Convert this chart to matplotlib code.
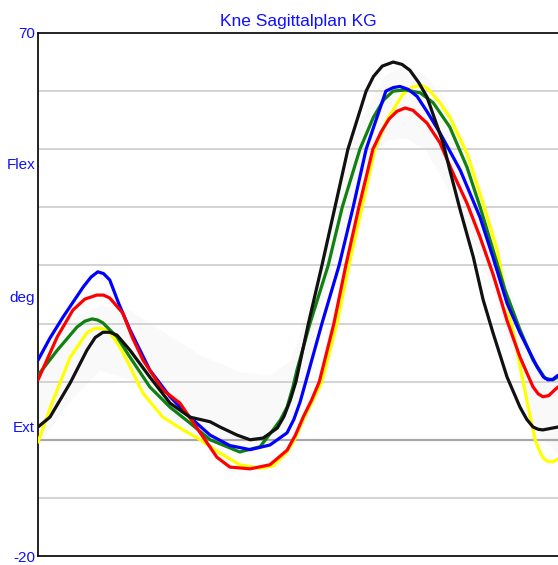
import numpy as np
import matplotlib.pyplot as plt

plt.rcParams['font.family'] = ['Liberation Sans', 'DejaVu Sans']

# percent of gait cycle / knee angle (deg)
blue_x = [0, 2.3, 4.8, 8.7, 10.2, 11.5, 12.6, 13.8, 15.5, 17.7, 21.5, 25.4, 29.2, 33.1, 36.9, 40.8,
          44.6, 47.9, 49.2, 50.4, 51.5, 54.6, 57.9, 60.6, 63.1, 66.9, 68.3, 69.6, 71.2, 72.9, 74.8,
          77.3, 81.2, 85.0, 87.5, 90.2, 92.7, 96.0, 97.2, 98.1, 99.0, 100]
blue_y = [13.7, 17.5, 21.1, 26.3, 28.0, 28.9, 28.6, 27.5, 23.5, 18.9, 12.0, 7.4, 3.9, 0.8, -1.0, -1.7,
          -0.9, 1.2, 3.5, 6.5, 10, 20, 30, 40, 50, 60, 60.6, 60.8, 60.3, 59.1, 56.5,
          52.8, 46.4, 38.3, 31.4, 23.5, 18.4, 12.5, 10.8, 10.3, 10.4, 11.1]

red_x = [0, 3.7, 6.7, 9.0, 11.3, 12.6, 13.8, 16.3, 18.2, 20.2, 24.0, 27.3, 31.2, 34.4, 36.9, 40.8,
         44.6, 47.9, 49.5, 51.0, 52.6, 54.1, 56.9, 59.2, 61.7, 64.4, 66.0, 67.5, 69.0, 70.6, 72.1,
         74.8, 77.3, 79.8, 82.5, 85.0, 87.5, 89.2, 90.2, 92.7, 95.2, 96.2, 97.1, 98.2, 100]
red_y = [10.3, 17.7, 22.3, 24.2, 24.9, 24.9, 24.4, 21.8, 17.5, 13.7, 8.6, 6.3, 1.2, -3.0, -4.7, -5.0,
         -4.3, -1.8, 0.8, 3.9, 6.8, 10, 20, 30, 40, 50, 53.0, 55.2, 56.5, 57.1, 56.7,
         54.5, 51.1, 45.9, 40.7, 34.9, 28.5, 23.5, 20.5, 14.2, 9.1, 7.9, 7.4, 7.6, 9.1]

green_x = [0, 3.7, 7.5, 9.0, 10.4, 11.5, 12.5, 15.2, 17.7, 21.5, 25.4, 29.2, 33.1, 38.8, 42.7, 45.2,
           46.6, 47.9, 49.0, 49.8, 52.3, 55.8, 58.5, 61.9, 64.5, 66.5, 68.3, 70.6, 73.5, 76.0, 79.2,
           82.5, 85.0, 87.5, 89.8, 92.7, 95.2, 97.5, 99.0, 100]
green_y = [11.1, 15.4, 19.4, 20.4, 20.8, 20.6, 20.1, 17.7, 14.2, 9.1, 5.6, 2.9, 0, -2.1, -1.2, 1.7,
           3.4, 5.6, 9.0, 12.0, 20, 30, 40, 50, 55.5, 58.5, 60.0, 60.2, 59.7, 58.0, 53.8,
           46.9, 40.1, 32.7, 25.8, 18.9, 13.7, 10.6, 10.3, 10.8]

yellow_x = [0, 2.9, 6.2, 9.4, 10.7, 11.9, 12.9, 13.8, 15.5, 17.1, 20.2, 24.0, 27.9, 31.2, 35.0, 38.8,
            42.7, 45.2, 47.9, 49.5, 51.0, 52.8, 54.6, 57.5, 59.8, 62.3, 64.8, 67.1, 70.2, 71.8, 73.5,
            74.5, 75.4, 77.3, 79.2, 82.5, 85.6, 88.3, 90.2, 92.1, 94.0, 95.6, 96.4, 97.1, 98.0, 99.0, 100]
yellow_y = [-0.4, 6.8, 14.2, 18.4, 19.1, 19.2, 19.0, 18.5, 16.3, 13.7, 8.0, 3.9, 1.7, 0, -2.3, -4.3,
            -4.9, -4.5, -2.1, 0.3, 3.4, 6.6, 10, 20, 30, 40, 50, 55, 59.5, 60.6, 61.0,
            60.7, 60.0, 58.0, 55.5, 49.3, 40.7, 32.7, 23.5, 15.5, 6.8, 0, -1.8, -3.1, -3.7, -3.8, -3.3]

black_x = [0, 2.3, 6.2, 9.4, 11.0, 12.5, 13.8, 15.2, 17.7, 21.5, 25.4, 29.2, 33.1, 35.0, 38.3, 40.8,
           43.3, 46.0, 47.3, 48.5, 49.6, 52.0, 54.6, 57.1, 59.6, 63.1, 64.5, 66.2, 68.3, 70.0, 71.5,
           73.2, 74.8, 77.9, 79.2, 81.2, 83.7, 85.6, 87.5, 90.2, 92.7, 94.0, 95.2, 96.2, 97.1, 100]
black_y = [2.2, 3.9, 9.8, 15.4, 17.6, 18.5, 18.5, 18.0, 15.4, 10.8, 6.3, 3.9, 3.1, 2.2, 0.8, 0,
           0.3, 2.0, 4.0, 6.8, 10, 20, 30, 40, 50, 60, 62.5, 64.3, 65.0, 64.6, 63.6,
           61.5, 59.0, 51.1, 46.4, 39.5, 31.5, 24.1, 18.4, 10.8, 5.6, 3.5, 2.2, 1.8, 1.7, 2.2]

# normal range band
band_x = [0, 6.2, 11.9, 17.7, 23.5, 31.2, 38.8, 44.6, 48.5, 51.3, 54.2, 58.1, 61.9, 66.7, 70.6,
          74.4, 78.3, 83.1, 87.9, 92.7, 96.5, 100]
band_hi = [13.7, 20.6, 23.2, 22.3, 18.9, 14.6, 11.7, 11.1, 13.7, 20.6, 30.9, 44.7, 55.0, 62.8, 64.5,
           62.8, 58.5, 48.1, 34.4, 20.6, 12.9, 11.1]
band_lo = [-0.9, 6.8, 12.0, 10.3, 5.1, 0, -1.2, -0.4, 3.4, 10.0, 22.0, 34.0, 45.0, 51.5, 52.0,
           50.0, 44.0, 35.0, 25.0, 10.0, 1.0, -2.6]

grid_levels = [-10, 10, 20, 30, 40, 50, 60]
ytick_pos = [70, 47.6, 24.7, 2.2, -20]
ytick_txt = ['70', 'Flex', 'deg', 'Ext', '-20']

fig = plt.figure(figsize=(5.58, 5.65), dpi=100)
ax = fig.add_axes([38 / 558, 9 / 565, 1 - 38 / 558, 523 / 565])

ax.fill_between(band_x, band_lo, band_hi, color='#f9f9f9', lw=0, zorder=1)
for g in grid_levels:
    ax.axhline(g, color='#c8c8c8', lw=1.1, zorder=2)
ax.axhline(0, color='#a8a8a8', lw=1.6, zorder=2)

lw = 2.3
kw = dict(lw=lw, solid_joinstyle='round', solid_capstyle='round')
ax.plot(yellow_x, yellow_y, color='#ffff00', zorder=3, **kw)
ax.plot(green_x, green_y, color='#108010', zorder=4, **kw)
ax.plot(blue_x, blue_y, color='#0000ff', zorder=5, **kw)
ax.plot(red_x, red_y, color='#ff0000', zorder=6, **kw)
ax.plot(black_x, black_y, color='#111111', zorder=7, **kw)

ax.set_xlim(0, 100)
ax.set_ylim(-20, 70)
ax.set_xticks([])
ax.set_yticks(ytick_pos)
ax.set_yticklabels(ytick_txt, color='#1010ff', fontsize=11)
ax.tick_params(axis='y', length=0, pad=2)
ax.spines['right'].set_visible(False)
for s in ['left', 'top', 'bottom']:
    ax.spines[s].set_color('#111111')
    ax.spines[s].set_linewidth(1.3)

ax.set_title('Kne Sagittalplan KG', color='#1010ff', fontsize=12.5, pad=5)

fig.savefig('out.png', dpi=100)
